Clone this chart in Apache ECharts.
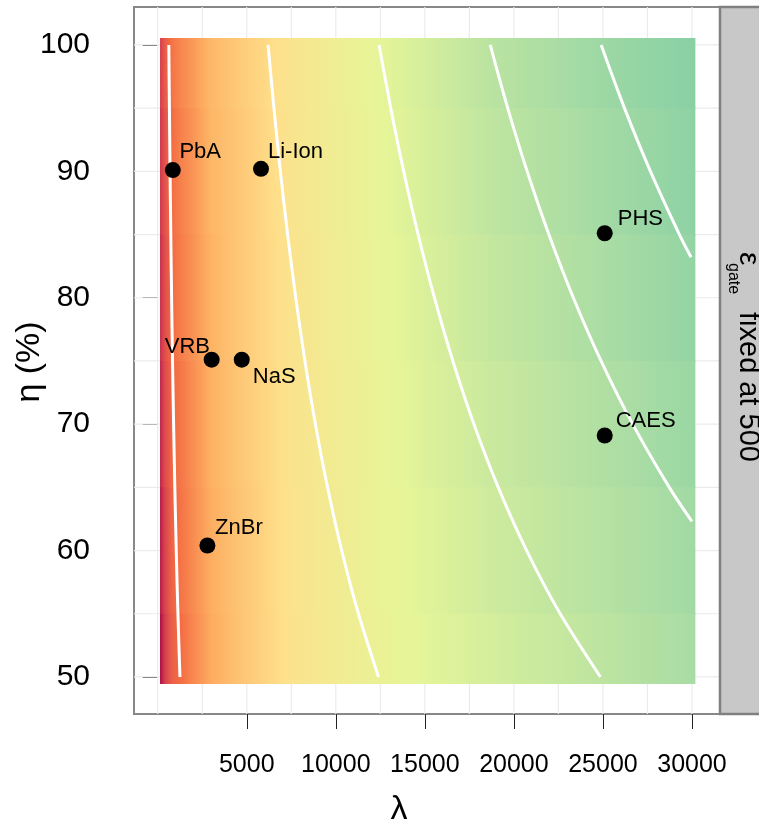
<!DOCTYPE html>
<html>
<head>
<meta charset="utf-8">
<script src="https://cdn.jsdelivr.net/npm/echarts@6/dist/echarts.min.js"></script>
<style>
  html, body { margin: 0; padding: 0; background: #fff; }
  #chart { width: 759px; height: 826px; }
</style>
</head>
<body>
<div id="chart"></div>
<script>
// axis ticks
const xTicks = [5000, 10000, 15000, 20000, 25000, 30000];
const yTicks = [50, 60, 70, 80, 90, 100];
const gridX = [0, 2500, 5000, 7500, 10000, 12500, 15000, 17500, 20000, 22500, 25000, 27500, 30000];
const gridY = [50, 55, 60, 65, 70, 75, 80, 85, 90, 95, 100];

// colour field (z = position on the Spectral scale)
const lambdaCols = [130, 400, 800, 1250, 2000, 3000, 4500, 6200, 8000, 10000, 12400, 15000, 18700, 24900, 30190];
const etaRows = [100, 90, 80, 70, 60, 50];
const heatEtaRange = [49.45, 100.55];
const heatZ = [
  [1.0, 1.6, 2.1, 2.35, 2.7, 3.2, 3.55, 3.9, 4.3, 4.65, 5.0, 5.3, 5.75, 6.2, 6.5],
  [0.85, 1.45, 2.0, 2.27, 2.62, 3.15, 3.5, 3.88, 4.28, 4.62, 4.96, 5.25, 5.66, 6.1, 6.42],
  [0.7, 1.35, 1.95, 2.22, 2.57, 3.1, 3.5, 3.86, 4.26, 4.6, 4.92, 5.2, 5.57, 6.0, 6.33],
  [0.55, 1.25, 1.85, 2.13, 2.52, 3.05, 3.45, 3.84, 4.24, 4.56, 4.88, 5.15, 5.48, 5.9, 6.24],
  [0.4, 1.1, 1.8, 2.07, 2.47, 3.0, 3.42, 3.82, 4.22, 4.53, 4.84, 5.1, 5.4, 5.8, 6.15],
  [0.2, 1.0, 1.7, 1.97, 2.42, 2.95, 3.4, 3.8, 4.2, 4.5, 4.8, 5.05, 5.3, 5.7, 6.05]
];

// white contour lines [lambda, eta]
const contour1 = [[625, 100], [658, 95], [694, 90], [735, 85], [781, 80], [833, 75], [893, 70], [962, 65], [1042, 60], [1136, 55], [1250, 50]];
const contour2 = [[6200, 100], [6526, 95], [6889, 90], [7294, 85], [7750, 80], [8267, 75], [8857, 70], [9538, 65], [10333, 60], [11273, 55], [12400, 50]];
const contour3 = [[12430, 100], [13084, 95], [13811, 90], [14624, 85], [15538, 80], [16573, 75], [17757, 70], [19123, 65], [20717, 60], [22600, 55], [24860, 50]];
const contour4 = [[18670, 100], [19653, 95], [20744, 90], [21965, 85], [23338, 80], [24893, 75], [26671, 70], [28724, 65], [30000, 62.3]];
const contour5 = [[24900, 100], [26210, 95], [27667, 90], [29294, 85], [29950, 83.2]];

// storage technologies
const techNames = ['PbA', 'Li-Ion', 'PHS', 'VRB', 'NaS', 'CAES', 'ZnBr'];
const techLambda = [850, 5800, 25100, 3030, 4720, 25100, 2790];
const techEta = [90.1, 90.2, 85.1, 75.1, 75.1, 69.1, 60.4];

// label placement (style)
const labelPlace = {
  'PbA': [6.6, -18, 'left'],
  'Li-Ion': [7, -17, 'left'],
  'PHS': [13, -14.5, 'left'],
  'VRB': [-1.7, -12.5, 'right'],
  'NaS': [11, 17.5, 'left'],
  'CAES': [11, -14.7, 'left'],
  'ZnBr': [7.7, -18, 'left']
};

const spectral = ['#9e0142', '#d53e4f', '#f46d43', '#fdae61', '#fee08b', '#e6f598', '#abdda4', '#66c2a5', '#3288bd', '#5e4fa2'];
const FONT = '"Liberation Sans", Helvetica, Arial, sans-serif';

function hex2rgb(h) {
  return [parseInt(h.slice(1, 3), 16), parseInt(h.slice(3, 5), 16), parseInt(h.slice(5, 7), 16)];
}
function zColor(z) {
  const i = Math.max(0, Math.min(Math.floor(z), spectral.length - 2));
  const t = Math.max(0, Math.min(1, z - i));
  const a = hex2rgb(spectral[i]), b = hex2rgb(spectral[i + 1]);
  const c = a.map((v, k) => Math.round(v + (b[k] - v) * t));
  return 'rgb(' + c.join(',') + ')';
}

const chart = echarts.init(document.getElementById('chart'), null, { renderer: 'canvas' });

function contourSeries(pts) {
  return {
    type: 'line',
    data: pts,
    showSymbol: false,
    symbol: 'none',
    smooth: 0.3,
    silent: true,
    z: 3,
    lineStyle: { color: '#ffffff', width: 3 }
  };
}

function txt(text, x, y, size, align) {
  return {
    type: 'text', x: x, y: y, z: 12,
    style: { text: text, font: size + 'px ' + FONT, fill: '#000', textAlign: align, textVerticalAlign: 'middle', align: align, verticalAlign: 'middle' }
  };
}

const option = {
  animation: false,
  backgroundColor: '#ffffff',
  grid: {
    left: 134, top: 7, width: 586, height: 707,
    show: true, borderColor: '#888888', borderWidth: 2, backgroundColor: '#ffffff',
    containLabel: false, outerBoundsMode: 'none'
  },
  xAxis: {
    type: 'value', min: -1331, max: 31573,
    axisLine: { show: false },
    axisTick: { show: true, length: 15, customValues: xTicks, lineStyle: { color: '#222', width: 1 } },
    axisLabel: { customValues: xTicks, margin: 39, fontSize: 25, fontFamily: FONT, color: '#000', formatter: v => String(v) },
    splitLine: { show: false }
  },
  yAxis: {
    type: 'value', min: 47.07, max: 103.0, offset: 8,
    axisLine: { show: false },
    axisTick: { show: true, length: 15, customValues: yTicks, lineStyle: { color: '#222', width: 1 } },
    axisLabel: { customValues: yTicks, margin: 36, fontSize: 30, fontFamily: FONT, color: '#000', formatter: v => String(v) },
    splitLine: { show: false }
  },
  graphic: [
    {
      type: 'rect', z: 10,
      shape: { x: 720, y: 7, width: 45, height: 707 },
      style: { fill: '#c8c8c8', stroke: '#808080', lineWidth: 2.5 }
    },
    {
      type: 'group', x: 748, y: 252, rotation: -Math.PI / 2, z: 12,
      children: [
        txt('ε', 0, 0, 30, 'left'),
        txt('gate', 11, 14.5, 16, 'left'),
        txt('fixed at 500', 60, 0, 29, 'left')
      ]
    },
    txt('λ', 399, 810, 34, 'center'),
    {
      type: 'group', x: 30, y: 362, rotation: Math.PI / 2, z: 12,
      children: [txt('η (%)', 0, 0, 34, 'center')]
    }
  ],
  series: [
    {
      // vertical grid lines
      type: 'custom', silent: true, z: 1,
      data: gridX.map(v => [v, 75]),
      renderItem: function (params, api) {
        const cs = params.coordSys;
        const x = api.coord([api.value(0), 75])[0];
        return { type: 'line', shape: { x1: x, y1: cs.y, x2: x, y2: cs.y + cs.height }, style: { stroke: '#ebebeb', lineWidth: 1.2 } };
      }
    },
    {
      // horizontal grid lines
      type: 'custom', silent: true, z: 1,
      data: gridY.map(v => [15000, v]),
      renderItem: function (params, api) {
        const cs = params.coordSys;
        const y = api.coord([15000, api.value(1)])[1];
        return { type: 'line', shape: { x1: cs.x, y1: y, x2: cs.x + cs.width, y2: y }, style: { stroke: '#ebebeb', lineWidth: 1.2 } };
      }
    },
    {
      // colour field, one band per eta row
      type: 'custom', silent: true, z: 2,
      data: etaRows.map((e, i) => [lambdaCols[0], e, i]),
      renderItem: function (params, api) {
        const i = params.dataIndex;
        const last = etaRows.length - 1;
        const hi = i === 0 ? heatEtaRange[1] : (etaRows[i - 1] + etaRows[i]) / 2;
        const lo = i === last ? heatEtaRange[0] : (etaRows[i] + etaRows[i + 1]) / 2;
        const pA = api.coord([lambdaCols[0], hi]);
        const pB = api.coord([lambdaCols[lambdaCols.length - 1], lo]);
        const w = pB[0] - pA[0];
        const z = heatZ[i];
        const stops = [];
        for (let c = 0; c < lambdaCols.length; c++) {
          const off = (api.coord([lambdaCols[c], hi])[0] - pA[0]) / w;
          stops.push({ offset: off, color: zColor(z[c]) });
          if (c < lambdaCols.length - 1) {
            const off2 = (api.coord([lambdaCols[c + 1], hi])[0] - pA[0]) / w;
            for (let k = Math.floor(z[c]) + 1; k < z[c + 1]; k++) {
              stops.push({ offset: off + (off2 - off) * (k - z[c]) / (z[c + 1] - z[c]), color: spectral[k] });
            }
          }
        }
        return {
          type: 'rect',
          shape: { x: pA[0], y: pA[1], width: w, height: pB[1] - pA[1] + (i < last ? 1 : 0) },
          style: { fill: new echarts.graphic.LinearGradient(0, 0, 1, 0, stops) }
        };
      }
    },
    contourSeries(contour1),
    contourSeries(contour2),
    contourSeries(contour3),
    contourSeries(contour4),
    contourSeries(contour5),
    {
      type: 'scatter',
      z: 4,
      symbol: 'circle',
      symbolSize: 16,
      itemStyle: { color: '#000000', opacity: 1 },
      emphasis: { disabled: true },
      label: {
        show: true, position: 'inside', formatter: '{b}',
        color: '#000000', opacity: 1, fontSize: 22, fontFamily: FONT, verticalAlign: 'middle'
      },
      data: techNames.map((n, i) => ({
        name: n,
        value: [techLambda[i], techEta[i]],
        label: { offset: [labelPlace[n][0], labelPlace[n][1]], align: labelPlace[n][2] }
      }))
    }
  ]
};

chart.setOption(option);
</script>
</body>
</html>
